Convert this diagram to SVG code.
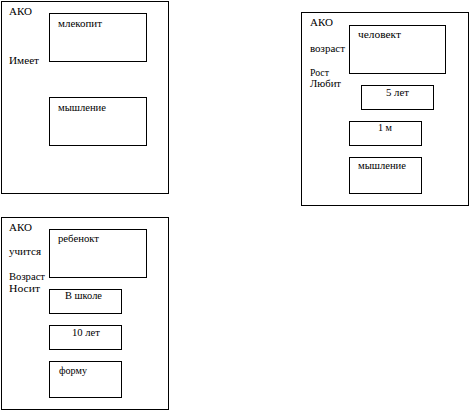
<svg xmlns="http://www.w3.org/2000/svg" width="470" height="410" viewBox="0 0 470 410" font-family="'Liberation Serif', 'DejaVu Serif', serif">
<style>
rect{fill:none;stroke:#000;stroke-width:1}
text{font-family:'Liberation Serif','DejaVu Serif',serif;fill:#000}
.h{font-size:11px}
.l{font-size:11px}
.s{font-size:10px}
</style>
<rect x="0" y="0" width="470" height="410" style="fill:#fff;stroke:none"/>
<g id="frame1">
<rect x="1.5" y="1.5" width="167" height="192"/>
<text class="h" x="9" y="15" textLength="23" lengthAdjust="spacingAndGlyphs">АКО</text>
<text class="l" x="9" y="64" textLength="30" lengthAdjust="spacingAndGlyphs">Имеет</text>
<g id="f1-mlekopit"><rect x="49.5" y="13.5" width="97" height="48"/><text class="s" x="58" y="27" textLength="44" lengthAdjust="spacingAndGlyphs">млекопит</text></g>
<g id="f1-myshlenie"><rect x="49.5" y="97.5" width="97" height="48"/><text class="s" x="58" y="111" textLength="48" lengthAdjust="spacingAndGlyphs">мышление</text></g>
</g>
<g id="frame2">
<rect x="301.5" y="12.5" width="167" height="193"/>
<text class="h" x="310" y="26" textLength="23" lengthAdjust="spacingAndGlyphs">АКО</text>
<text class="s" x="310" y="52" textLength="35" lengthAdjust="spacingAndGlyphs">возраст</text>
<text class="l" x="310" y="76" textLength="19" lengthAdjust="spacingAndGlyphs">Рост</text>
<text class="l" x="310" y="87" textLength="31" lengthAdjust="spacingAndGlyphs">Любит</text>
<g id="f2-chelovek"><rect x="349.5" y="25.5" width="96" height="48"/><text class="s" x="358" y="38" textLength="43" lengthAdjust="spacingAndGlyphs">человект</text></g>
<g id="f2-5let"><rect x="361.5" y="85.5" width="72" height="24"/><text class="l" x="386" y="96" textLength="23" lengthAdjust="spacingAndGlyphs">5 лет</text></g>
<g id="f2-1m"><rect x="349.5" y="121.5" width="72" height="24"/><text class="l" x="378" y="131" textLength="14" lengthAdjust="spacingAndGlyphs">1 м</text></g>
<g id="f2-myshlenie"><rect x="349.5" y="157.5" width="72" height="36"/><text class="s" x="358" y="169" textLength="48" lengthAdjust="spacingAndGlyphs">мышление</text></g>
</g>
<g id="frame3">
<rect x="1.5" y="217.5" width="167" height="192"/>
<text class="h" x="9" y="231" textLength="23" lengthAdjust="spacingAndGlyphs">АКО</text>
<text class="s" x="9" y="255" textLength="32" lengthAdjust="spacingAndGlyphs">учится</text>
<text class="l" x="9" y="280" textLength="36" lengthAdjust="spacingAndGlyphs">Возраст</text>
<text class="l" x="9" y="292" textLength="31" lengthAdjust="spacingAndGlyphs">Носит</text>
<g id="f3-rebenok"><rect x="49.5" y="229.5" width="97" height="48"/><text class="l" x="58" y="242" textLength="41" lengthAdjust="spacingAndGlyphs">ребенокт</text></g>
<g id="f3-vshkole"><rect x="49.5" y="289.5" width="72" height="24"/><text class="l" x="65" y="299" textLength="37" lengthAdjust="spacingAndGlyphs">В школе</text></g>
<g id="f3-10let"><rect x="49.5" y="325.5" width="72" height="24"/><text class="l" x="72" y="336" textLength="28" lengthAdjust="spacingAndGlyphs">10 лет</text></g>
<g id="f3-formu"><rect x="49.5" y="361.5" width="72" height="36"/><text class="l" x="59" y="374" textLength="28" lengthAdjust="spacingAndGlyphs">форму</text></g>
</g>
<g id="connectors"></g>
</svg>
